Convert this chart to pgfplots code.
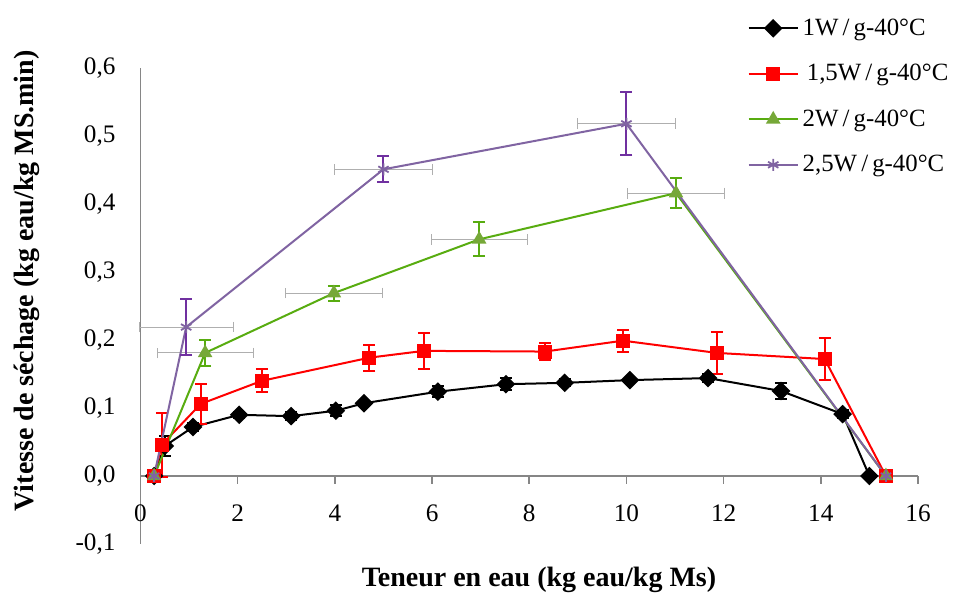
\documentclass[border=0pt]{standalone}
\usepackage{pgfplots}
\pgfplotsset{compat=1.18}
\usepackage{fontspec}
\setmainfont{Liberation Serif}
\definecolor{axgray}{RGB}{134,134,134}
\definecolor{errgray}{RGB}{175,175,175}
\definecolor{myred}{RGB}{255,0,0}
\definecolor{mygreen}{RGB}{88,172,16}
\definecolor{mygreenmark}{RGB}{118,168,56}
\definecolor{mypurple}{RGB}{128,100,162}
\definecolor{mypurpleerr}{RGB}{112,48,160}

\pgfplotstableread{
x y ey
0.28 0 0
0.50 0.044 0.015
1.08 0.072 0.006
2.03 0.090 0.004
3.10 0.088 0.006
4.02 0.096 0.008
4.60 0.107 0.004
6.12 0.124 0.008
7.52 0.135 0.009
8.73 0.137 0.005
10.07 0.141 0.003
11.68 0.144 0.006
13.18 0.125 0.012
14.45 0.091 0.006
15.00 0 0
}\dataA
\pgfplotstableread{
x y ey
0.28 0 0
0.44 0.046 0.047
1.24 0.106 0.030
2.50 0.140 0.017
4.71 0.174 0.019
5.83 0.184 0.026
8.32 0.183 0.012
9.93 0.199 0.016
11.86 0.181 0.031
14.08 0.172 0.031
15.34 0 0
}\dataB
\pgfplotstableread{
x y ey ex
0.28 0 0 0
1.33 0.181 0.019 0.99
3.98 0.269 0.011 1.00
6.97 0.348 0.025 0.99
11.02 0.416 0.022 0.99
15.34 0 0 0
}\dataC
\pgfplotstableread{
x y ey ex
0.28 0 0 0
0.94 0.219 0.041 0.97
5.00 0.451 0.019 1.00
10.00 0.518 0.046 1.00
15.34 0 0 0
}\dataD

\begin{document}
\begin{tikzpicture}
\begin{axis}[
  scale only axis, width=388.75pt, height=238pt,
  xmin=0, xmax=16, ymin=-0.1, ymax=0.6,
  axis x line=middle, axis y line=left,
  axis line style={axgray, line width=0.75pt, -},
  xtick={0,2,4,6,8,10,12,14,16},
  ytick={-0.1,0,0.1,0.2,0.3,0.4,0.5,0.6},
  xtick align=outside,
  major tick length=4pt,
  xtick style={axgray, line width=0.75pt},
  ytick style={draw=none},
  hide obscured x ticks=false,
  hide obscured y ticks=false,
  tick label style={font=\fontsize{12.6}{14}\selectfont},
  /pgf/number format/assume math mode=true,
  yticklabel style={xshift=-7pt, /pgf/number format/.cd, use comma, fixed, fixed zerofill, precision=1},
  xticklabel style={yshift=-7pt},
  xlabel={Teneur en eau (kg eau/kg Ms)},
  xlabel style={at={(rel axis cs:0.5125,-0.0756)}, anchor=center, font=\bfseries\fontsize{14}{16}\selectfont},
  ylabel={Vitesse de séchage (kg eau/kg MS.min)},
  ylabel style={at={(rel axis cs:-0.146,0.553)}, anchor=center, font=\bfseries\fontsize{14}{16}\selectfont},
  clip=false,
  legend cell align=left,
  legend style={at={(rel axis cs:0.781,0.94)}, anchor=west, draw=none, fill=none,
    inner sep=0pt, outer sep=0pt, row sep=9pt, font=\fontsize{12.4}{14}\selectfont},
  legend image code/.code={\draw[mark repeat=2, mark phase=2] plot coordinates {(0pt,0pt) (12.25pt,0pt) (24.5pt,0pt)};},
]
% black
\addplot[black, line width=1pt, mark=square*, mark size=2.8pt, mark options={rotate=45, solid},
  error bars/.cd, y dir=both, y explicit, error bar style={line width=1pt}, error mark options={rotate=90, mark size=3pt, line width=1pt}]
  table[x=x, y=y, y error=ey] {\dataA};
\addlegendentry{1W\,/\,g-40°C}
% red
\addplot[myred, line width=1pt, mark=square*, mark size=3pt, mark options={solid},
  error bars/.cd, y dir=both, y explicit, error bar style={line width=1pt}, error mark options={rotate=90, mark size=3pt, line width=1pt}]
  table[x=x, y=y, y error=ey] {\dataB};
\addlegendentry{\,1,5W\,/\,g-40°C}
% green horizontal errors
\addplot[forget plot, draw=none, mark=none,
  error bars/.cd, x dir=both, x explicit, error bar style={errgray, line width=0.5pt}, error mark options={rotate=90, errgray, mark size=2.7pt, line width=0.5pt}]
  table[x=x, y=y, x error=ex] {\dataC};
\addplot[mygreen, line width=1pt, mark=triangle*, mark size=3.2pt, mark options={solid, fill=mygreenmark, draw=mygreenmark},
  error bars/.cd, y dir=both, y explicit, error bar style={mygreen, line width=1pt}, error mark options={rotate=90, mygreen, mark size=3pt, line width=1pt}]
  table[x=x, y=y, y error=ey] {\dataC};
\addlegendentry{2W\,/\,g-40°C}
% purple horizontal errors
\addplot[forget plot, draw=none, mark=none,
  error bars/.cd, x dir=both, x explicit, error bar style={errgray, line width=0.5pt}, error mark options={rotate=90, errgray, mark size=2.7pt, line width=0.5pt}]
  table[x=x, y=y, x error=ex] {\dataD};
\addplot[mypurple, line width=1pt, mark=asterisk, mark size=3pt, mark options={solid, line width=0.9pt},
  error bars/.cd, y dir=both, y explicit, error bar style={mypurpleerr, line width=1pt}, error mark options={rotate=90, mypurpleerr, mark size=3pt, line width=1pt}]
  table[x=x, y=y, y error=ey] {\dataD};
\addlegendentry{2,5W\,/\,g-40°C}
\coordinate (bl) at (rel axis cs:0,0);
\coordinate (tr) at (rel axis cs:1,1);
\end{axis}
\pgfresetboundingbox
\path[use as bounding box] ([shift={(-70.25pt,-27.75pt)}]bl) rectangle ([shift={(18.5pt,34pt)}]tr);
\end{tikzpicture}
\end{document}
